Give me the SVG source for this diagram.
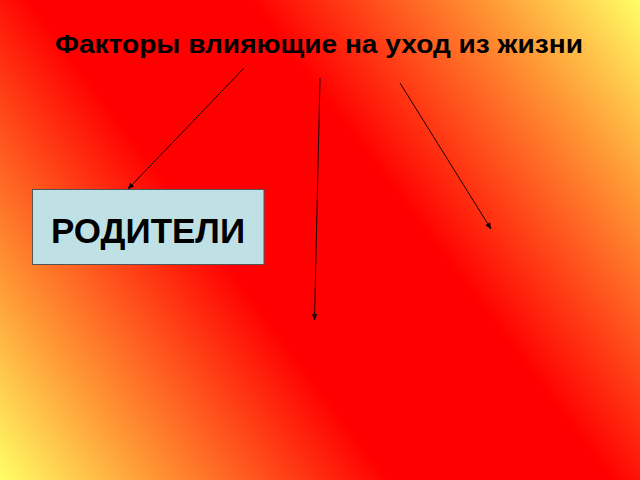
<svg xmlns="http://www.w3.org/2000/svg" width="640" height="480" viewBox="0 0 640 480">
  <defs>
    <linearGradient id="bg" gradientUnits="userSpaceOnUse" x1="0" y1="480" x2="640" y2="0">
      <stop offset="0" stop-color="#ffff66"/>
      <stop offset="0.15" stop-color="#ff9a36"/>
      <stop offset="0.39" stop-color="#ff0000"/>
      <stop offset="0.61" stop-color="#ff0000"/>
      <stop offset="0.85" stop-color="#ff9a36"/>
      <stop offset="1" stop-color="#ffff66"/>
    </linearGradient>
    <marker id="arr" viewBox="0 0 10 10" refX="9" refY="5" markerWidth="7" markerHeight="7" orient="auto" markerUnits="userSpaceOnUse">
      <path d="M0,1 L10,5 L0,9 Z" fill="#1a0000"/>
    </marker>
    <style>
      .title { font-family: "Liberation Sans", Arial, sans-serif; font-weight: bold; font-size: 25px; fill: #000; }
      .node rect { fill: #bfe0e4; stroke: #555555; stroke-width: 1; }
      .node text { font-family: "Liberation Sans", Arial, sans-serif; font-weight: bold; font-size: 35px; fill: #000; }
      .conn line { stroke: #1a0000; stroke-width: 1; fill: none; marker-end: url(#arr); }
    </style>
  </defs>
  <rect x="0" y="0" width="640" height="480" fill="url(#bg)"/>
  <g id="title">
    <text class="title" x="55" y="53" textLength="528" lengthAdjust="spacingAndGlyphs">Факторы влияющие на уход из жизни</text>
  </g>
  <g id="node-roditeli" class="node">
    <rect x="32.5" y="189.5" width="231.5" height="75"/>
    <text x="148" y="243" text-anchor="middle">РОДИТЕЛИ</text>
  </g>
  <g id="connectors" class="conn">
    <line x1="244" y1="68" x2="128" y2="189"/>
    <line x1="320" y1="78" x2="314.5" y2="320"/>
    <line x1="400" y1="83" x2="491" y2="229"/>
  </g>
</svg>
